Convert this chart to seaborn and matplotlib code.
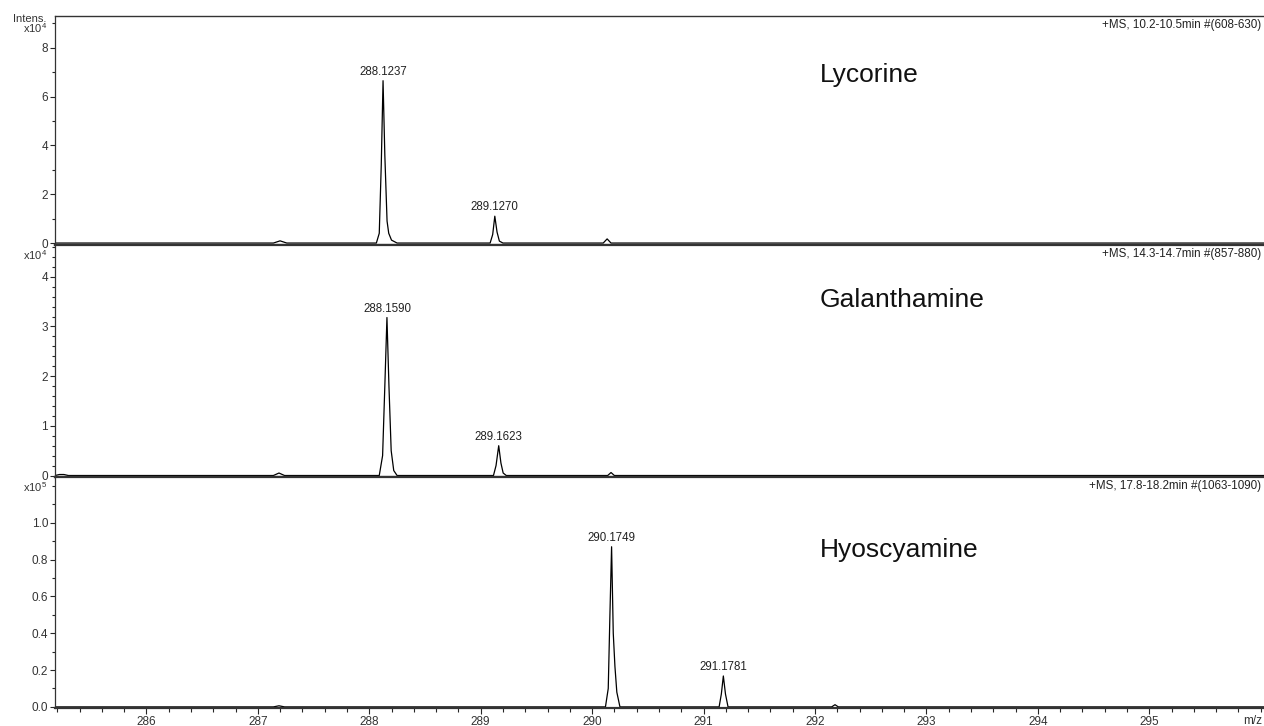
import pandas as pd
import matplotlib.pyplot as plt
import seaborn as sns
from matplotlib.ticker import MultipleLocator, FixedLocator

# ---- spectrum data (m/z vs intensity) ----
# Lycorine, intensity in units of 1e4
lyc_mz = [285.18, 287.14, 287.20, 287.26, 288.064, 288.09, 288.108, 288.124,
          288.14, 288.16, 288.175, 288.20, 288.25, 289.085, 289.108, 289.127,
          289.147, 289.168, 289.2, 290.10, 290.135, 290.17, 296.04]
lyc_int = [0.0, 0.0, 0.09, 0.0, 0.0, 0.4, 3.2, 6.65,
           3.6, 0.9, 0.4, 0.12, 0.0, 0.0, 0.35, 1.1,
           0.45, 0.08, 0.0, 0.0, 0.17, 0.0, 0.0]
lyc_peaks = [288.1237, 289.1270]
lyc_peak_int = [6.65, 1.1]

# Galanthamine, intensity in units of 1e4
gal_mz = [285.18, 285.22, 285.26, 285.30, 287.14, 287.19, 287.24, 288.09,
          288.12, 288.14, 288.159, 288.177, 288.197, 288.22, 288.25, 289.115,
          289.138, 289.162, 289.182, 289.202, 289.23, 290.14, 290.17, 290.20, 296.04]
gal_int = [0.0, 0.02, 0.02, 0.0, 0.0, 0.05, 0.0, 0.0,
           0.4, 1.8, 3.18, 1.8, 0.5, 0.1, 0.0, 0.0,
           0.2, 0.6, 0.25, 0.05, 0.0, 0.0, 0.06, 0.0, 0.0]
gal_peaks = [288.1590, 289.1623]
gal_peak_int = [3.18, 0.6]

# Hyoscyamine, intensity in units of 1e5
hyo_mz = [285.18, 287.14, 287.19, 287.24, 290.12, 290.145, 290.16, 290.175,
          290.19, 290.205, 290.222, 290.25, 291.14, 291.16, 291.178, 291.197,
          291.22, 292.15, 292.18, 292.21, 296.04]
hyo_int = [0.0, 0.0, 0.006, 0.0, 0.0, 0.1, 0.5, 0.87,
           0.4, 0.22, 0.08, 0.0, 0.0, 0.07, 0.168, 0.07,
           0.0, 0.0, 0.012, 0.0, 0.0]
hyo_peaks = [290.1749, 291.1781]
hyo_peak_int = [0.87, 0.168]

names = ["Lycorine", "Galanthamine", "Hyoscyamine"]
headers = ["+MS, 10.2-10.5min #(608-630)",
           "+MS, 14.3-14.7min #(857-880)",
           "+MS, 17.8-18.2min #(1063-1090)"]
exponents = ["x10$^4$", "x10$^4$", "x10$^5$"]
name_y = [6.9, 3.54, 0.85]
y_major = [[0, 2, 4, 6, 8], [0, 1, 2, 3, 4], [0.0, 0.2, 0.4, 0.6, 0.8, 1.0]]
y_minor = [1, 0.2, 0.1]
y_fmt = ["%d", "%d", "%.1f"]

sns.set_style("ticks")
plt.rcParams["font.family"] = ["Liberation Sans", "DejaVu Sans"]
plt.rcParams["mathtext.fontset"] = "custom"
plt.rcParams["mathtext.rm"] = "Liberation Sans"

fig = plt.figure(figsize=(12.64, 7.26), dpi=100)
left, right = 55 / 1264, 1.0
rows = [(16, 245), (245, 477), (477, 708)]
axes = []
for top_px, bot_px in rows:
    b = 1 - bot_px / 726
    h = (bot_px - top_px) / 726
    axes.append(fig.add_axes([left, b, right - left, h]))

traces = [(lyc_mz, lyc_int, lyc_peaks, lyc_peak_int),
          (gal_mz, gal_int, gal_peaks, gal_peak_int),
          (hyo_mz, hyo_int, hyo_peaks, hyo_peak_int)]
ylims = [(-0.08, 9.3), (-0.03, 4.64), (-0.006, 1.249)]

for i, ax in enumerate(axes):
    mz, inten, pk, pk_int = traces[i]
    df = pd.DataFrame({"mz": mz, "intensity": inten})
    sns.lineplot(data=df, x="mz", y="intensity", ax=ax, color="black",
                 lw=0.9, sort=False, estimator=None)
    ax.set_xlim(285.18, 296.03)
    ax.set_ylim(*ylims[i])
    ax.set_xlabel("")
    ax.set_ylabel("")

    ax.yaxis.set_major_locator(FixedLocator(y_major[i]))
    ax.yaxis.set_minor_locator(MultipleLocator(y_minor[i]))
    ax.yaxis.set_major_formatter(plt.FormatStrFormatter(y_fmt[i]))
    ax.tick_params(axis="y", which="major", length=3.5, width=0.8,
                   labelsize=8.5, labelcolor="#333333", pad=1.5)
    ax.tick_params(axis="y", which="minor", length=2.2, width=0.8)

    ax.spines["right"].set_visible(False)
    ax.spines["left"].set_linewidth(0.9)
    ax.spines["left"].set_color("#333333")
    ax.spines["bottom"].set_linewidth(1.6)
    ax.spines["bottom"].set_color("#333333")
    ax.spines["top"].set_linewidth(1.0 if i == 0 else 1.6)
    ax.spines["top"].set_color("#333333")

    if i < 2:
        ax.tick_params(axis="x", which="both", bottom=False, labelbottom=False)
    else:
        ax.xaxis.set_major_locator(FixedLocator([286, 287, 288, 289, 290,
                                                 291, 292, 293, 294, 295]))
        ax.xaxis.set_minor_locator(MultipleLocator(0.2))
        ax.tick_params(axis="x", which="major", length=4, width=0.8,
                       labelsize=8.5, labelcolor="#333333", pad=1.5)
        ax.tick_params(axis="x", which="minor", length=3, width=0.8)

    # peak labels
    for x, y in zip(pk, pk_int):
        ax.annotate(f"{x:.4f}", xy=(x, y), xytext=(0, 2), textcoords="offset points",
                    ha="center", va="bottom", fontsize=8.3, color="#222222")

    # compound name
    ax.text(292.04, name_y[i], names[i], fontsize=19, color="#111111",
            ha="left", va="center")

    # header at top right
    ax.annotate(headers[i], xy=(1, 1), xycoords="axes fraction",
                xytext=(-2, -6.5), textcoords="offset points",
                ha="right", va="center", fontsize=8.4, color="#222222")

    # exponent label
    ax.annotate(exponents[i], xy=(0, 1), xycoords="axes fraction",
                xytext=(-6, -9 if i == 0 else -7.5), textcoords="offset points",
                ha="right", va="center", fontsize=8, color="#333333")

axes[0].annotate("Intens.", xy=(0, 1), xycoords="axes fraction",
                 xytext=(-6, -2), textcoords="offset points",
                 ha="right", va="center", fontsize=8, color="#333333")
axes[2].annotate("m/z", xy=(1, 0), xycoords="axes fraction",
                 xytext=(-1, -9), textcoords="offset points",
                 ha="right", va="center", fontsize=8.5, color="#333333")

fig.savefig("out.png", dpi=100)
